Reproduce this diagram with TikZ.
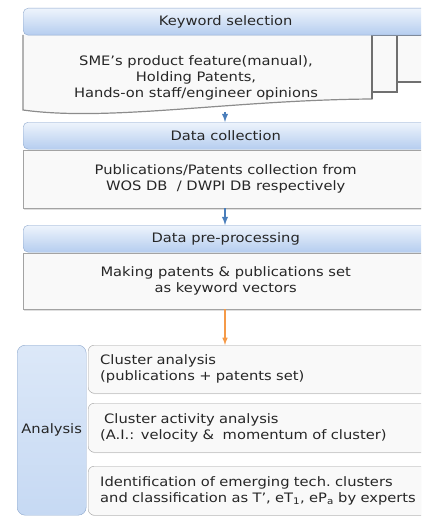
\documentclass[tikz,border=0pt]{standalone}
\usepackage{fontspec}
\setmainfont[FakeStretch=1.13]{DejaVu Sans}
\usetikzlibrary{arrows,shapes,positioning,shadows}
\definecolor{headtop}{HTML}{EEF4FC}
\definecolor{headbot}{HTML}{B5CDEF}
\definecolor{headline}{HTML}{8DA7CC}
\definecolor{bodyfill}{HTML}{F9F9F9}
\definecolor{bodyline}{HTML}{A3A3A3}
\definecolor{docline}{HTML}{707070}
\definecolor{flowblue}{HTML}{4A7EBB}
\definecolor{floworange}{HTML}{F59A48}
\definecolor{anatop}{HTML}{DCE8F8}
\definecolor{anabot}{HTML}{C6D9F3}

\begin{document}
\begin{tikzpicture}[x=1pt,y=-1pt,>=latex,font=\fontsize{13}{16}\selectfont]
  \tikzstyle{head}=[rectangle,rounded corners=5pt,draw=headline,top color=headtop,
                    bottom color=headbot,minimum width=405pt,minimum height=27pt,
                    anchor=north west,inner sep=0pt,text=black!85]
  \tikzstyle{body}=[rectangle,draw=bodyline,fill=bodyfill,minimum width=405pt,
                    anchor=north west,inner sep=0pt,align=center,text=black!85,
                    drop shadow={shadow xshift=1pt,shadow yshift=-1.5pt,opacity=0.25}]
  \tikzstyle{doc}=[draw=docline,line width=1.6pt,fill=bodyfill]
  \tikzstyle{step box}=[rectangle,rounded corners=6pt,draw=bodyline,fill=bodyfill,
                    minimum width=354pt,minimum height=49pt,anchor=north west,
                    text width=330pt,align=left,inner sep=0pt,text=black!85,
                    drop shadow={shadow xshift=1pt,shadow yshift=-1pt,opacity=0.2}]
  \tikzstyle{flow}=[->,line width=1.8pt,draw=flowblue]
  \clip (0,0) rectangle (421,516);
  \useasboundingbox (0,0) rectangle (421,516);

  % keyword selection: stacked documents
  \draw[doc] (397,35) rectangle (430,82);
  \draw[doc] (371,35) rectangle (397,92);
  \draw[doc,draw=black!45,line width=1.2pt] (23,35) -- (23,110)
    .. controls (110,122) and (230,100) .. (372,99) -- (372,35);
  \draw[draw=docline,line width=1.8pt] (372,35) -- (372,99);
  \node[align=center,text=black!85] (kwbody) at (196,78)
    {SME’s product feature(manual),\\Holding Patents,\\Hands-on staff/engineer opinions};
  \coordinate (kwbot) at (225,112);

  \node[body,minimum height=58pt] (dcbody) at (23,150)
    {Publications/Patents collection from\\WOS DB \ / DWPI DB respectively};
  \node[body,minimum height=56pt] (ppbody) at (23,253)
    {Making patents \& publications set\\as keyword vectors};

  \node[head] (kwhead) at (23,8) {Keyword selection};
  \node[head] (dchead) at (23,122) {Data collection};
  \node[head] (pphead) at (23,225) {Data pre-processing};

  % analysis
  \node[rectangle,rounded corners=8pt,draw=headline,top color=anatop,bottom color=anabot,
        minimum width=69pt,minimum height=170pt,anchor=north west,inner sep=0pt,
        text=black!85] (anabox) at (17,345) {Analysis};
  \node[step box,minimum height=48pt] (cl1) at (88,345)
    {Cluster analysis\\(publications + patents set)};
  \node[step box] (cl2) at (88,403)
    {\hspace*{4pt}Cluster activity analysis\\(A.I.: velocity \& \ momentum of cluster)};
  \node[step box] (cl3) at (88,466)
    {Identification of emerging tech.\ clusters\\and classification as T’, eT\textsubscript{1}, eP\textsubscript{a} by experts};

  \draw[flow] (kwbot) -- (kwbot |- dchead.north);
  \draw[flow] (dcbody.south -| kwbot) -- (kwbot |- pphead.north);
  \draw[->,line width=1.5pt,draw=floworange] (ppbody.south -| kwbot) -- (kwbot |- cl1.north);
\end{tikzpicture}
\end{document}
